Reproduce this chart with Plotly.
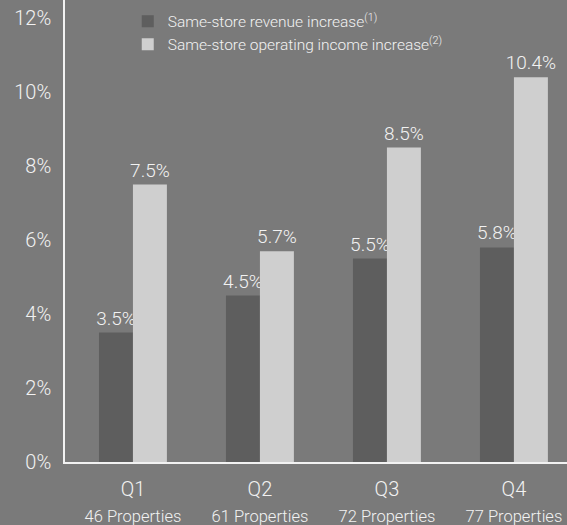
import plotly.graph_objects as go

# Quarterly same-store results
quarters = ["Q1", "Q2", "Q3", "Q4"]
properties = ["46 Properties", "61 Properties", "72 Properties", "77 Properties"]
revenue_increase = [3.5, 4.5, 5.5, 5.8]
operating_income_increase = [7.5, 5.7, 8.5, 10.4]
y_ticks = [0, 2, 4, 6, 8, 10, 12]

BG = "#7a7a7a"
DARK = "#5e5e5e"
LIGHT = "#cfcfcf"
TEXT = "#f2f2f2"
FONT = "Roboto"

xpos = list(range(len(quarters)))
ticktext = [f"{q}<br><span style='font-size:16.5px'>{p}</span>" for q, p in zip(quarters, properties)]

fig = go.Figure()
fig.add_trace(go.Bar(
    x=xpos, y=revenue_increase,
    name="Same-store revenue increase<sup>(1)</sup>",
    marker=dict(color=DARK, line=dict(width=0)),
    text=[f"{v:.1f}%" for v in revenue_increase],
    textposition="outside", cliponaxis=False, constraintext="none",
    textfont=dict(color=TEXT, size=19, family=FONT, weight=300),
))
fig.add_trace(go.Bar(
    x=xpos, y=operating_income_increase,
    name="Same-store operating income increase<sup>(2)</sup>",
    marker=dict(color=LIGHT, line=dict(width=0)),
    text=[f"{v:.1f}%" for v in operating_income_increase],
    textposition="outside", cliponaxis=False, constraintext="none",
    textfont=dict(color=TEXT, size=19, family=FONT, weight=300),
))

fig.update_layout(
    width=567, height=525,
    margin=dict(l=65, r=0, t=0, b=63),
    paper_bgcolor=BG, plot_bgcolor=BG,
    barmode="group", bargap=0.465, bargroupgap=0,
    font=dict(family=FONT, color=TEXT, weight=300),
    legend=dict(
        x=0.125, y=0.99, xanchor="left", yanchor="top",
        bgcolor="rgba(0,0,0,0)", font=dict(size=15.5, color=TEXT, family=FONT, weight=300),
        traceorder="normal", itemwidth=30, tracegroupgap=0,
    ),
    xaxis=dict(
        range=[-0.535, 3.418], tickvals=xpos, ticktext=ticktext,
        showgrid=False, zeroline=False, showline=True, linecolor=TEXT, linewidth=1.5,
        tickfont=dict(size=20, color=TEXT, family=FONT, weight=300), ticks="",
        ticklabelstandoff=8,
    ),
    yaxis=dict(
        range=[0, 12.49], tickvals=y_ticks, ticktext=[f"{v}%" for v in y_ticks],
        showgrid=False, zeroline=False, showline=True, linecolor=TEXT, linewidth=1.5,
        tickfont=dict(size=20, color=TEXT, family=FONT, weight=300), ticks="",
        ticklabelstandoff=8,
    ),
)

fig.write_html("out.html")
